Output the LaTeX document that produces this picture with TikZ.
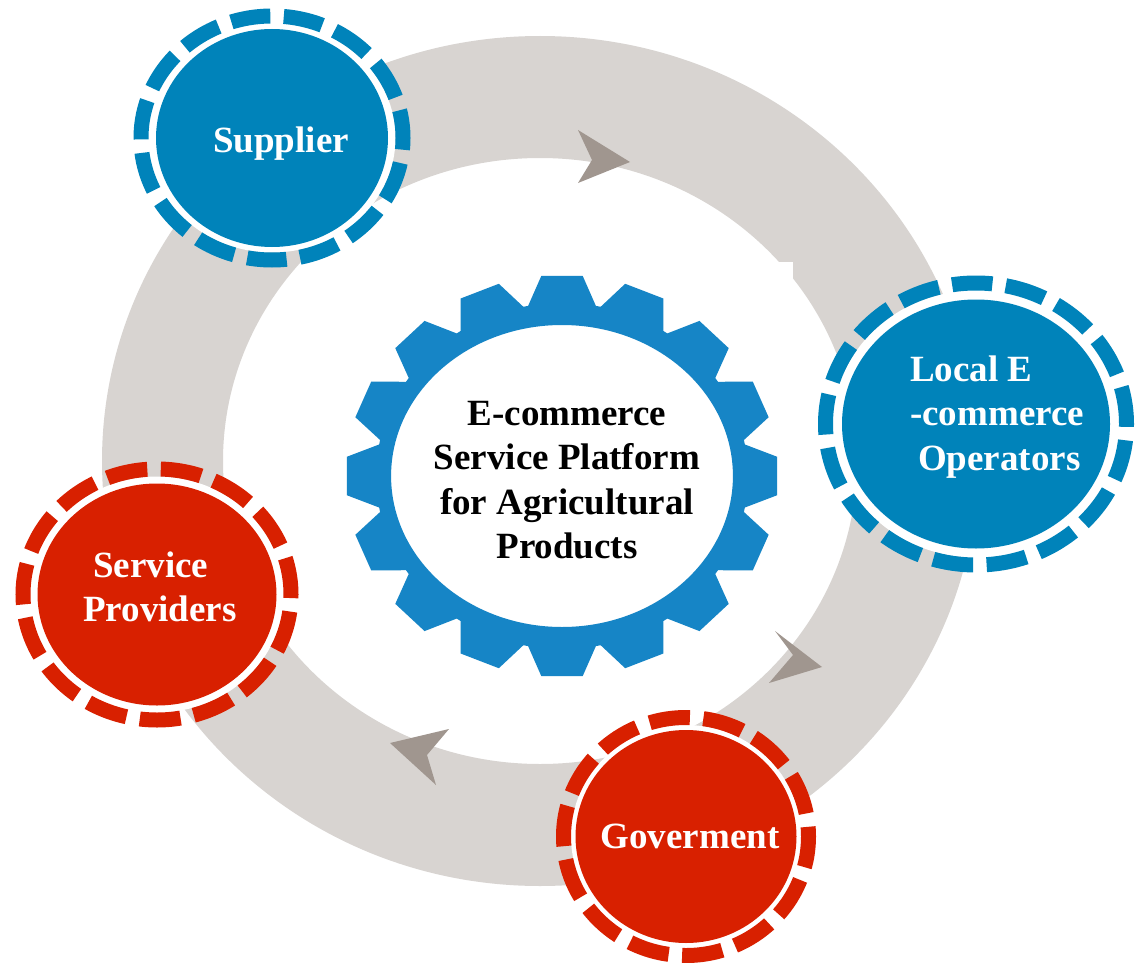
\documentclass[tikz,border=0pt]{standalone}
\usepackage{fontspec}
\setmainfont{Liberation Serif}
\definecolor{ringgray}{RGB}{216,212,209}
\definecolor{arrowgray}{RGB}{160,150,143}
\definecolor{nodeblue}{RGB}{0,131,186}
\definecolor{gearblue}{RGB}{22,133,198}
\definecolor{nodered}{RGB}{216,32,0}
\newcommand\dashedbadge[9]{%
  % #1 cx, #2 cy, #3 fill rx, #4 fill ry, #5 dash rx, #6 dash ry, #7 colour, #8 on length, #9 phase
  \fill[white] (#1,#2) ellipse [x radius=#5pt-7.5pt, y radius=#6pt-7.5pt];
  \fill[#7] (#1,#2) ellipse [x radius=#3pt, y radius=#4pt];
  \draw[#7, line width=15pt, dash pattern=on #8pt off 13.5pt, dash phase=#9pt]
    (#1,#2) ellipse [x radius=#5pt, y radius=#6pt];
}
\begin{document}
\begin{tikzpicture}[x=1pt,y=-1pt,
  lbl/.style={text=white, font=\fontsize{37}{44.5}\selectfont\bfseries, inner sep=0pt},
  centrelbl/.style={text=black, font=\fontsize{37}{44.5}\selectfont\bfseries, inner sep=0pt, align=center},
  arrowhd/.style={fill=arrowgray}]
\useasboundingbox (0,0) rectangle (1135,963);
\fill[white] (0,0) rectangle (1135,963);

% grey cycle ring
\fill[ringgray, even odd rule]
  (540,461) ellipse [x radius=438pt, y radius=425pt]
  (540,461) ellipse [x radius=317pt, y radius=303pt];
\fill[white] (770,262) rectangle (793,285);

% arrowheads on the ring
\fill[arrowhd] (630,162) -- (578,130) -- (592,160) -- (578,183) -- cycle;
\fill[arrowhd] (822,667) -- (775,631) -- (793,655) -- (769,683) -- cycle;
\fill[arrowhd] (390,743) -- (449,729) -- (427,755) -- (436,785) -- cycle;

% central gear
\begin{scope}[shift={(562,476)}, xscale=1.075]
  \fill[gearblue, even odd rule]
    ({90-10.5}:173)
    \foreach \k in {0,...,15}{
      -- ({90+22.5*\k-10.5}:173) -- ({90+22.5*\k-5.5}:201)
      -- ({90+22.5*\k+5.5}:201) -- ({90+22.5*\k+10.5}:173)
    } -- cycle
    (0,0) ellipse [x radius=159pt, y radius=151pt];
\end{scope}
\node[centrelbl] (platform) at (567,480)
  {E-commerce\\Service Platform\\for Agricultural\\Products};

% actor badges
\dashedbadge{272}{138}{116}{109}{131}{122}{nodeblue}{39.5}{11.5}
\dashedbadge{976}{424}{134}{124.5}{150.5}{141}{nodeblue}{40.4}{3}
\dashedbadge{686}{836.5}{110.5}{106.5}{122.5}{119}{nodered}{40.7}{31}
\dashedbadge{157}{594.5}{119.5}{111}{134}{125.5}{nodered}{40.9}{4}

\node[lbl, anchor=base] (supplier) at (281,153) {Supplier};
\node[lbl, anchor=west, align=left] (operators) at (910,417)
  {Local E\\-commerce\\\hspace*{8pt}Operators};
\node[lbl, anchor=base] (government) at (690,848) {Goverment};
\node[lbl, anchor=west, align=left] (providers) at (83,587)
  {\hspace*{10pt}Service\\Providers};
\end{tikzpicture}
\end{document}
